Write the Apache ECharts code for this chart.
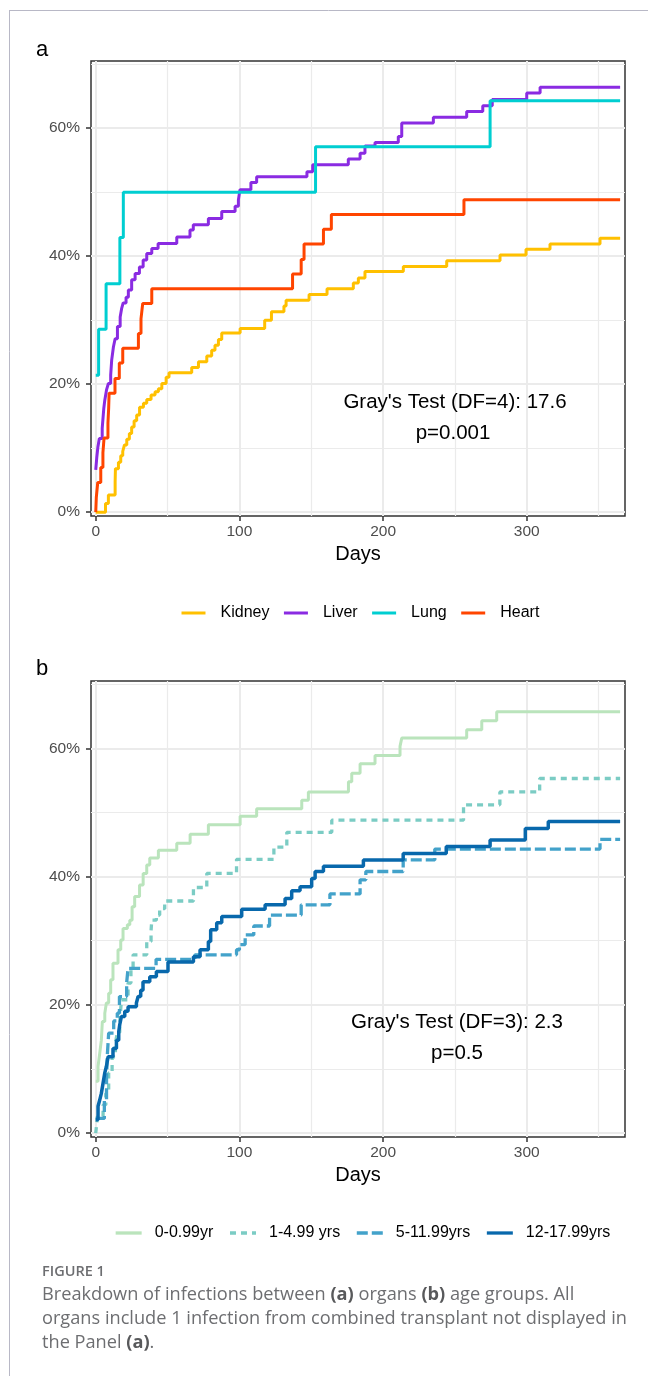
<!DOCTYPE html>
<html>
<head>
<meta charset="utf-8">
<script src="https://cdn.jsdelivr.net/npm/echarts@6/dist/echarts.min.js"></script>
<style>
html, body { margin: 0; padding: 0; background: #fff; }
#main { width: 648px; height: 1376px; }
</style>
</head>
<body>
<div id="main"></div>
<script>
// ---- panel a : organs (day, cumulative incidence %) ----
var kidneyDays = [0, 6.8, 8.8, 13.5, 13.7, 15.8, 17.4, 18.8, 20, 21.6, 23.4, 25, 26.7, 28.5, 30.5, 33.2, 35.5, 38.5, 41.3, 43.6, 46, 49, 51, 66.8, 71.5, 77.3, 80.7, 83, 85.4, 87.7, 100.5, 117.6, 122.3, 131, 132.5, 148.5, 161, 179.3, 182.8, 187.4, 214.1, 244.3, 281.4, 299.5, 316.2, 351, 365];
var kidneyPct = [0, 1.35, 2.7, 4.7, 6.8, 7.8, 8.8, 9.5, 10.5, 11.4, 12.3, 13.3, 14.3, 15.2, 16.4, 17.0, 17.6, 18.3, 18.8, 19.3, 20.1, 21.1, 21.8, 22.6, 23.5, 24.4, 25.3, 26.1, 27.0, 28.0, 28.7, 30.0, 31.3, 32.2, 33.1, 34.0, 34.9, 35.8, 36.6, 37.6, 38.4, 39.3, 40.2, 41.1, 41.9, 42.8, 42.8];

var liverDays = [0, 0.7, 1.5, 2.5, 4.5, 5.6, 6.3, 7.5, 8.8, 10.4, 11.1, 12.3, 13.5, 15.1, 17, 18, 19.1, 21.1, 22.7, 25, 27.4, 30.4, 33, 35.5, 39, 43.4, 56.4, 65.6, 67.9, 78.4, 87.7, 97, 99.3, 100.4, 108, 112, 147, 151, 175.8, 184, 187.4, 194.4, 210.6, 213, 235, 258.2, 269.4, 276, 300, 309.3, 365];
var liverPct = [6.6, 8.5, 10.2, 11.5, 13.1, 16.2, 17.5, 19.1, 20.1, 21.4, 23.75, 25.8, 27.1, 29.0, 30.5, 31.8, 32.7, 33.6, 34.7, 36.3, 37.3, 38.3, 39.4, 40.4, 41.2, 42.0, 43.0, 44.1, 44.9, 45.9, 47.0, 47.8, 48.8, 50.4, 51.5, 52.4, 53.2, 54.3, 55.2, 56.1, 57.2, 57.75, 58.7, 60.8, 61.7, 62.6, 63.5, 64.5, 65.5, 66.4, 66.4];

var lungDays = [0, 2, 7.2, 16.8, 19.2, 153, 274.5, 365];
var lungPct = [21.4, 28.6, 35.7, 42.9, 50.0, 57.1, 64.3, 64.3];

var heartDays = [0, 0.4, 1.4, 3.5, 5, 5.8, 8.5, 9, 9.3, 13.4, 16.4, 18.8, 29.7, 31.5, 32.7, 39, 137, 143, 145, 158.5, 164, 256.3, 365];
var heartPct = [0, 2.33, 4.65, 6.98, 9.3, 11.6, 13.95, 16.3, 18.6, 20.9, 23.3, 25.6, 27.9, 30.2, 32.6, 34.9, 37.2, 39.5, 41.9, 44.2, 46.5, 48.8, 48.8];

// ---- panel b : age groups ----
var infantDays = [0, 1.6, 2.8, 3.9, 4.6, 6.3, 7.4, 9, 10.4, 12, 15.5, 17.4, 19, 22, 23.7, 25.3, 27.1, 30.5, 33, 35.5, 37.6, 43.6, 56.4, 65.7, 78.4, 100.5, 112, 143.4, 148, 175.9, 178.2, 184, 194.4, 211.8, 213, 258.2, 268.7, 279.1, 365];
var infantPct = [8.1, 10.4, 12.5, 14.5, 17.4, 18.7, 20.3, 21.8, 23.9, 26.5, 28.6, 30.1, 31.9, 32.5, 33.2, 35.3, 36.9, 38.7, 40.5, 41.8, 42.9, 44.1, 45.2, 46.6, 48.1, 49.4, 50.6, 51.9, 53.2, 54.8, 56.1, 57.6, 58.9, 60.3, 61.6, 62.9, 64.3, 65.7, 65.7];

var toddlerDays = [0, 1.2, 5.1, 7, 9, 11.4, 13.7, 15, 16.7, 17.9, 22.5, 24.5, 26, 35.5, 38.5, 39, 42.2, 44.5, 48, 68, 77.3, 98, 124, 133, 164.3, 256, 281.3, 309, 365];
var toddlerPct = [0, 2.6, 4.4, 6.2, 9.4, 11.9, 14.0, 15.7, 17.4, 20.8, 23.4, 25.5, 27.8, 29.9, 31.5, 33.2, 34.0, 35.0, 36.2, 38.3, 40.5, 42.7, 44.6, 46.9, 48.8, 51.2, 53.2, 55.3, 55.3];

var childDays = [0, 6, 7.5, 8, 9, 12.5, 15, 16.5, 21.5, 22.5, 42, 69, 98, 100, 104, 110, 121, 143, 163, 184, 188, 214, 236, 351, 365];
var childPct = [2.3, 5.2, 8.3, 11.9, 15.6, 17.5, 18.7, 21.3, 23.4, 25.7, 27.1, 27.8, 28.6, 29.4, 30.9, 32.3, 34.0, 35.6, 37.3, 39.5, 40.8, 42.6, 44.3, 45.8, 45.8];

var teenDays = [0, 1.6, 2.8, 3.9, 5.1, 6.3, 7.4, 8.6, 12, 14.4, 16, 16.7, 17.9, 20.2, 22.5, 28.3, 29.5, 31.3, 32.9, 37.6, 42.2, 50.3, 68, 72.6, 78.4, 80, 84.2, 87.7, 101.6, 117.9, 131.8, 136.4, 142.2, 150.3, 152.7, 158.5, 186.3, 214, 244, 274.5, 299, 315, 365];
var teenPct = [2.1, 4.2, 5.2, 6.2, 7.8, 9.4, 10.4, 11.9, 13.2, 14.5, 15.8, 16.9, 18.2, 19.0, 19.7, 20.3, 21.3, 22.3, 23.6, 24.4, 25.2, 26.7, 27.5, 28.6, 29.9, 31.7, 32.8, 33.8, 34.9, 35.6, 36.6, 37.8, 38.4, 39.7, 40.8, 41.6, 42.6, 43.6, 44.7, 45.7, 47.5, 48.6, 48.6];

// ticks
var xMajor = [0, 100, 200, 300];
var xMinor = [50, 150, 250, 350];
var yMajor = [0, 20, 40, 60];
var yMinor = [10, 30, 50, 70];

var FONT = '"Liberation Sans", Arial, sans-serif';
var CAPFONT = '"Open Sans", "Noto Sans", sans-serif';

function zip(xs, ys) {
  return xs.map(function (x, i) { return [x, ys[i]]; });
}

// two axes per grid: one carries the minor grid lines, the other ticks/labels/major lines
function xAxes(gi) {
  return [
    {
      gridIndex: gi, type: 'value', position: 'bottom', min: -3.3, max: 368.4,
      axisLine: { show: false, onZero: false },
      axisTick: { show: false, customValues: xMinor },
      axisLabel: { show: false },
      splitLine: { show: true, lineStyle: { color: '#ebebeb', width: 1.2 } }
    },
    {
      gridIndex: gi, type: 'value', position: 'bottom', min: -3.3, max: 368.4,
      name: 'Days', nameLocation: 'middle', nameGap: 28,
      nameTextStyle: { fontFamily: FONT, fontSize: 20, color: '#000' },
      axisLine: { show: false, onZero: false },
      axisTick: { show: true, customValues: xMajor, length: 5, lineStyle: { color: '#333', width: 1.5 } },
      axisLabel: { customValues: xMajor, margin: 8, fontFamily: FONT, fontSize: 15.5, color: '#4d4d4d' },
      splitLine: { show: true, lineStyle: { color: '#ebebeb', width: 2 } }
    }
  ];
}

function yAxes(gi) {
  return [
    {
      gridIndex: gi, type: 'value', position: 'left', min: -0.6, max: 70.5,
      axisLine: { show: false, onZero: false },
      axisTick: { show: false, customValues: yMinor },
      axisLabel: { show: false },
      splitLine: { show: true, lineStyle: { color: '#ebebeb', width: 1.2 } }
    },
    {
      gridIndex: gi, type: 'value', position: 'left', min: -0.6, max: 70.5,
      axisLine: { show: false, onZero: false },
      axisTick: { show: true, customValues: yMajor, length: 5, lineStyle: { color: '#333', width: 1.5 } },
      axisLabel: {
        customValues: yMajor, margin: 11, fontFamily: FONT, fontSize: 15.5, color: '#4d4d4d',
        formatter: function (v) { return v + '%'; }
      },
      splitLine: { show: true, lineStyle: { color: '#ebebeb', width: 2 } }
    }
  ];
}

function stepLine(name, days, pct, color, axisIdx, width, dash) {
  return {
    name: name, type: 'line', step: 'end', symbol: 'none',
    xAxisIndex: axisIdx, yAxisIndex: axisIdx,
    data: zip(days, pct),
    lineStyle: { color: color, width: width, type: dash || 'solid' },
    itemStyle: { color: color }
  };
}

var chart = echarts.init(document.getElementById('main'));

var option = {
  animation: false,
  backgroundColor: '#fff',
  grid: [
    { left: 91, top: 61, width: 534, height: 455, show: true, borderColor: '#333', borderWidth: 1.5, backgroundColor: 'transparent' },
    { left: 91, top: 681, width: 534, height: 456, show: true, borderColor: '#333', borderWidth: 1.5, backgroundColor: 'transparent' }
  ],
  xAxis: xAxes(0).concat(xAxes(1)),
  yAxis: yAxes(0).concat(yAxes(1)),
  legend: [
    {
      data: ['Kidney', 'Liver', 'Lung', 'Heart'],
      left: 180, top: 605, padding: 0, itemWidth: 24, itemHeight: 3, itemGap: 13,
      itemStyle: { opacity: 0 },
      lineStyle: { width: 3 },
      textStyle: { fontFamily: FONT, fontSize: 16, color: '#000', padding: [0, 0, 0, 10] }
    },
    {
      data: ['0-0.99yr', '1-4.99 yrs', '5-11.99yrs', '12-17.99yrs'],
      left: 114, top: 1225, padding: 0, itemWidth: 26, itemHeight: 3, itemGap: 15,
      itemStyle: { opacity: 0 },
      lineStyle: { width: 3.3 },
      textStyle: { fontFamily: FONT, fontSize: 16, color: '#000', padding: [0, 0, 0, 8] }
    }
  ],
  series: [
    stepLine('Kidney', kidneyDays, kidneyPct, '#FFC000', 1, 3),
    stepLine('Liver', liverDays, liverPct, '#8A2BE2', 1, 3),
    stepLine('Lung', lungDays, lungPct, '#00CED1', 1, 3),
    stepLine('Heart', heartDays, heartPct, '#FF4500', 1, 3),
    stepLine('0-0.99yr', infantDays, infantPct, '#BAE4BC', 3, 3),
    stepLine('1-4.99 yrs', toddlerDays, toddlerPct, '#7BCCC4', 3, 3.3, [6, 5]),
    stepLine('5-11.99yrs', childDays, childPct, '#43A2CA', 3, 3.3, [11, 4]),
    stepLine('12-17.99yrs', teenDays, teenPct, '#0868AC', 3, 3.5)
  ],
  graphic: [
    // outer frame
    { type: 'line', shape: { x1: 9, y1: 10.5, x2: 648, y2: 10.5 }, style: { stroke: '#b8b8c6', lineWidth: 1 } },
    { type: 'line', shape: { x1: 9.5, y1: 10, x2: 9.5, y2: 1376 }, style: { stroke: '#b8b8c6', lineWidth: 1 } },
    // panel letters
    { type: 'text', x: 36, y: 39, style: { text: 'a', font: '22px ' + FONT, fill: '#000' } },
    { type: 'text', x: 36, y: 658, style: { text: 'b', font: '22px ' + FONT, fill: '#000' } },
    // test annotations
    { type: 'text', z: 100, x: 455, y: 402, style: { text: "Gray's Test (DF=4): 17.6", font: '20.5px ' + FONT, fill: '#000', align: 'center', verticalAlign: 'middle' } },
    { type: 'text', z: 100, x: 453, y: 433, style: { text: 'p=0.001', font: '20.5px ' + FONT, fill: '#000', align: 'center', verticalAlign: 'middle' } },
    { type: 'text', z: 100, x: 457, y: 1022, style: { text: "Gray's Test (DF=3): 2.3", font: '20.5px ' + FONT, fill: '#000', align: 'center', verticalAlign: 'middle' } },
    { type: 'text', z: 100, x: 457, y: 1053, style: { text: 'p=0.5', font: '20.5px ' + FONT, fill: '#000', align: 'center', verticalAlign: 'middle' } },
    // caption
    { type: 'text', x: 42, y: 1272, style: { text: 'FIGURE 1', font: '600 14.5px ' + CAPFONT, fill: '#6d6e71', verticalAlign: 'middle' } },
    {
      type: 'text', x: 42, y: 1295,
      style: {
        text: '{n|Breakdown of infections between }{b|(a)}{n| organs }{b|(b)}{n| age groups. All}',
        verticalAlign: 'middle',
        rich: {
          n: { font: '18.2px ' + CAPFONT, fill: '#6d6e71' },
          b: { font: 'bold 18.2px ' + CAPFONT, fill: '#58595b' }
        }
      }
    },
    { type: 'text', x: 42, y: 1319, style: { text: 'organs include 1 infection from combined transplant not displayed in', font: '18.2px ' + CAPFONT, fill: '#6d6e71', verticalAlign: 'middle' } },
    {
      type: 'text', x: 42, y: 1343,
      style: {
        text: '{n|the Panel }{b|(a)}{n|.}',
        verticalAlign: 'middle',
        rich: {
          n: { font: '18.2px ' + CAPFONT, fill: '#6d6e71' },
          b: { font: 'bold 18.2px ' + CAPFONT, fill: '#58595b' }
        }
      }
    }
  ]
};

chart.setOption(option);
</script>
</body>
</html>
